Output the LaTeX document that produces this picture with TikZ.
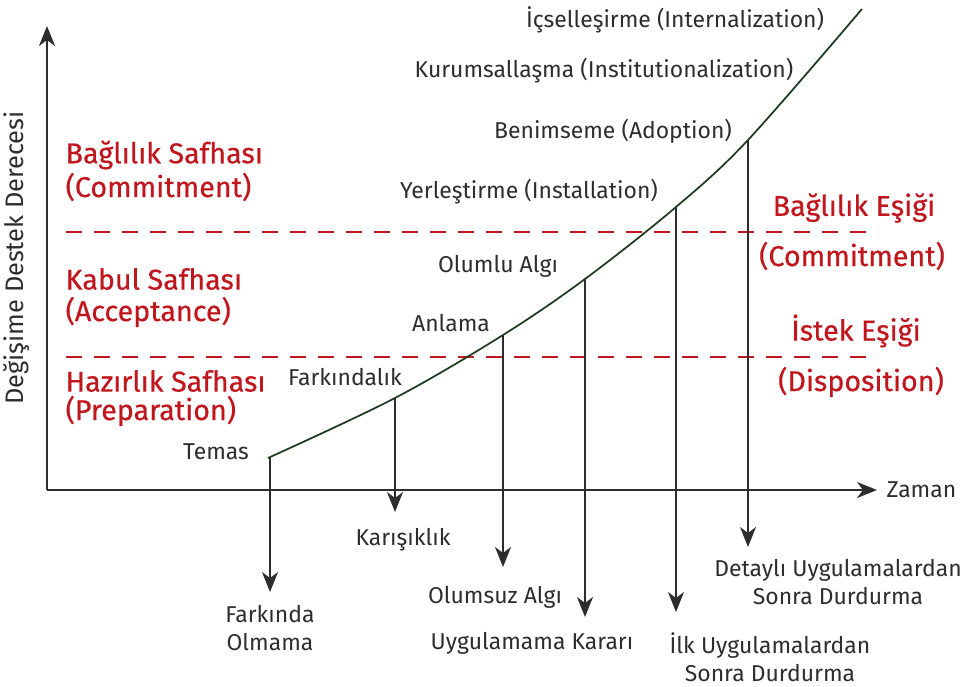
\documentclass[tikz,border=0pt]{standalone}
\usepackage{fontspec}
\setmainfont{Fira Sans}
\newfontface\redface{Fira Sans}[FakeBold=0.5]
\usepackage{tikz}
\usetikzlibrary{arrows.meta,positioning}

\definecolor{phasered}{RGB}{192,22,30}
\definecolor{curvegreen}{RGB}{28,58,30}
\definecolor{txtgray}{RGB}{45,45,45}

\tikzset{
  lbl/.style={text=txtgray, font=\fontsize{17.2}{21}\selectfont, inner sep=1pt},
  redlbl/.style={text=phasered, font=\redface\fontsize{21.5}{26}\selectfont, inner sep=1pt},
  axis/.style={line width=1.6pt, draw=txtgray, -{Stealth[length=15pt,width=12pt,inset=4.5pt]}},
  drop/.style={line width=1.5pt, draw=txtgray, -{Stealth[length=15pt,width=12pt,inset=4.5pt]}},
  thresh/.style={line width=1.2pt, draw=phasered, dash pattern=on 12pt off 9pt},
}

\begin{document}
\begin{tikzpicture}[x=0.75pt, y=-0.75pt]
  \useasboundingbox (0,0) rectangle (964,686);

  % axes
  \coordinate (O) at (47,490);
  \coordinate (ytip) at (47,26);
  \coordinate (xtip) at (877,490);
  \draw[axis] (O) -- (ytip);
  \draw[axis] (O) -- (xtip);
  \node[lbl, right=6pt of xtip] (zaman) {Zaman};
  \node[lbl, rotate=90, font=\fontsize{19}{22}\selectfont] (ylab) at (17,258) {Değişime Destek Derecesi};

  % thresholds
  \coordinate (c1a) at (66,232);
  \coordinate (c1b) at (878,232);
  \coordinate (d1a) at (66,357);
  \coordinate (d1b) at (878,357);
  \draw[thresh] (c1a) -- (c1b);
  \draw[thresh] (d1a) -- (d1b);

  % phases (left)
  \node[redlbl, anchor=west] (bs1) at (64,155) {Bağlılık Safhası};
  \node[redlbl, anchor=west] (bs2) at (64,187) {(Commitment)};
  \node[redlbl, anchor=west] (ks1) at (64,279) {Kabul Safhası};
  \node[redlbl, anchor=west] (ks2) at (64,312) {(Acceptance)};
  \node[redlbl, anchor=west] (hs1) at (64,381) {Hazırlık Safhası};
  \node[redlbl, anchor=west] (hs2) at (64,411) {(Preparation)};

  % thresholds (right)
  \node[redlbl] (be1) at (854,208) {Bağlılık Eşiği};
  \node[redlbl] (be2) at (852,256) {(Commitment)};
  \node[redlbl] (ie1) at (856,331) {İstek Eşiği};
  \node[redlbl] (ie2) at (861,382) {(Disposition)};

  % curve
  \coordinate (p0) at (268,458);
  \coordinate (p1) at (395,398);
  \coordinate (p2) at (503,335);
  \coordinate (p3) at (585,279);
  \coordinate (p4) at (676,207);
  \coordinate (p5) at (748,140);
  \coordinate (p6) at (862,9);
  \draw[curvegreen, line width=1.3pt] plot[smooth, tension=0.55] coordinates {(p0) (p1) (p2) (p3) (p4) (p5) (p6)};

  % stages on the curve
  \node[lbl] (temas) at (216,452) {Temas};
  \node[lbl] (fark) at (345,377) {Farkındalık};
  \node[lbl] (anla) at (451,323) {Anlama};
  \node[lbl] (olum) at (498,266) {Olumlu Algı};
  \node[lbl] (yerl) at (529,192) {Yerleştirme (Installation)};
  \node[lbl] (beni) at (613,131) {Benimseme (Adoption)};
  \node[lbl] (kuru) at (604,71) {Kurumsallaşma (Institutionalization)};
  \node[lbl] (icse) at (675,20) {İçselleşirme (Internalization)};

  % rejections
  \coordinate (q0) at (270,592);
  \coordinate (q1) at (395,512);
  \coordinate (q2) at (503,567);
  \coordinate (q3) at (585,617);
  \coordinate (q4) at (676,612);
  \coordinate (q5) at (748,547);
  \draw[drop] (270,458) -- (q0);
  \draw[drop] (p1) -- (q1);
  \draw[drop] (p2) -- (q2);
  \draw[drop] (p3) -- (q3);
  \draw[drop] (p4) -- (q4);
  \draw[drop] (p5) -- (q5);

  \node[lbl, align=center] (r0) at (270,628) {Farkında\\Olmama};
  \node[lbl] (r1) at (403,540) {Karışıklık};
  \node[lbl] (r2) at (495,597) {Olumsuz Algı};
  \node[lbl] (r3) at (532,643) {Uygulamama Kararı};
  \node[lbl, align=center] (r4) at (770,657) {İlk Uygulamalardan\\Sonra Durdurma};
  \node[lbl, align=center] (r5) at (838,582) {Detaylı Uygulamalardan\\Sonra Durdurma};
\end{tikzpicture}
\end{document}
